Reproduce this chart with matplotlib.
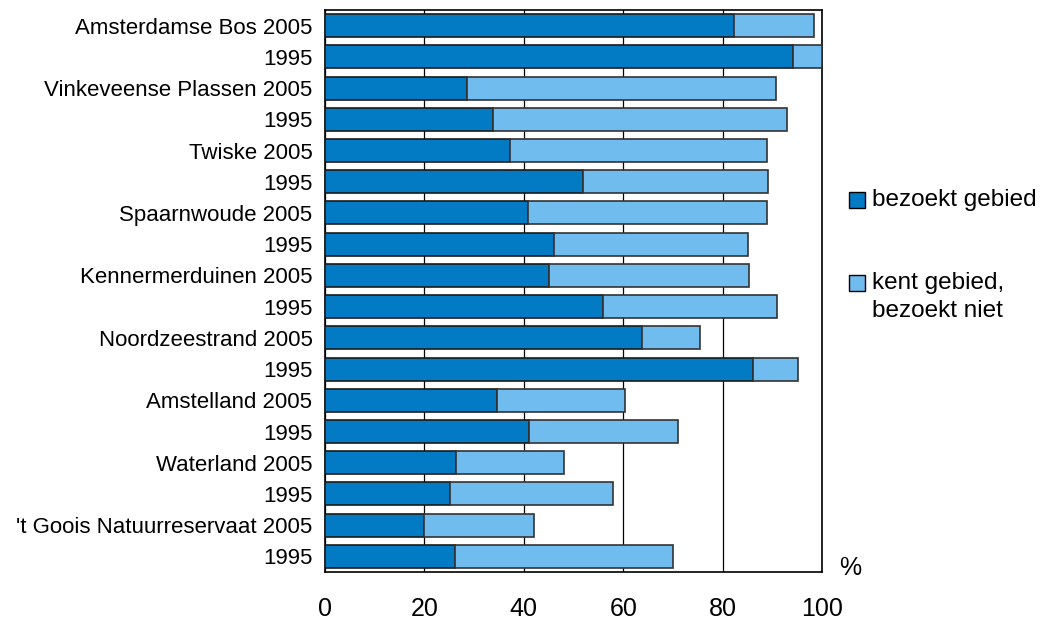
import matplotlib.pyplot as plt
from matplotlib.patches import Rectangle

plt.rcParams["font.family"] = ["Liberation Sans", "DejaVu Sans"]

# Row labels, top to bottom
labels = [
    "Amsterdamse Bos 2005", "1995",
    "Vinkeveense Plassen 2005", "1995",
    "Twiske 2005", "1995",
    "Spaarnwoude 2005", "1995",
    "Kennermerduinen 2005", "1995",
    "Noordzeestrand 2005", "1995",
    "Amstelland 2005", "1995",
    "Waterland 2005", "1995",
    "'t Goois Natuurreservaat 2005", "1995",
]

# % that visited the area
bezoekt = [82.3, 94.1, 28.5, 33.9, 37.2, 52.0, 40.8, 46.1, 45.1, 56.0,
           63.8, 86.1, 34.6, 41.0, 26.4, 25.2, 20.0, 26.1]
# % total that knows the area (visited + knows but not visited)
totaal = [98.4, 100.0, 90.8, 92.9, 88.9, 89.1, 88.9, 85.1, 85.3, 91.0,
          75.4, 95.1, 60.3, 71.1, 48.0, 58.0, 42.0, 70.0]
kent_niet = [t - b for t, b in zip(totaal, bezoekt)]

dark = "#037bc4"
light = "#71bcee"

fig = plt.figure(figsize=(10.5, 6.23), dpi=100)
ax = fig.add_axes([325 / 1050, 1 - 572 / 623, 497 / 1050, 562 / 623])

y = range(len(labels))
ax.barh(y, bezoekt, height=0.74, color=dark, edgecolor="#1a1a1a", linewidth=1.2, zorder=3)
ax.barh(y, kent_niet, left=bezoekt, height=0.74, color=light, edgecolor="#333333",
        linewidth=1.2, zorder=3)

ax.set_xlim(0, 100)
ax.set_ylim(len(labels) - 0.5, -0.5)
ax.set_xticks([0, 20, 40, 60, 80, 100])
ax.set_yticks(list(y))
ax.set_yticklabels(labels, fontsize=16)
ax.tick_params(axis="y", length=0, pad=9)
ax.tick_params(axis="x", length=0, pad=18, labelsize=18)
ax.grid(axis="x", color="black", linewidth=0.9, zorder=0)
for s in ax.spines.values():
    s.set_linewidth(1.2)

fig.text(850 / 1050, 1 - 568 / 623, "%", fontsize=18, va="center", ha="center")

# legend drawn by hand
fig.add_artist(Rectangle((849 / 1050, 1 - 208 / 623), 16 / 1050, 16 / 623,
                         transform=fig.transFigure, facecolor=dark, edgecolor="black", lw=1))
fig.text(872 / 1050, 1 - 200 / 623, "bezoekt gebied", fontsize=17.5, va="center")
fig.add_artist(Rectangle((849 / 1050, 1 - 291 / 623), 16 / 1050, 16 / 623,
                         transform=fig.transFigure, facecolor=light, edgecolor="black", lw=1))
fig.text(872 / 1050, 1 - 283 / 623, "kent gebied,", fontsize=17.5, va="center")
fig.text(872 / 1050, 1 - 311 / 623, "bezoekt niet", fontsize=17.5, va="center")

fig.savefig("out.png", dpi=100)
